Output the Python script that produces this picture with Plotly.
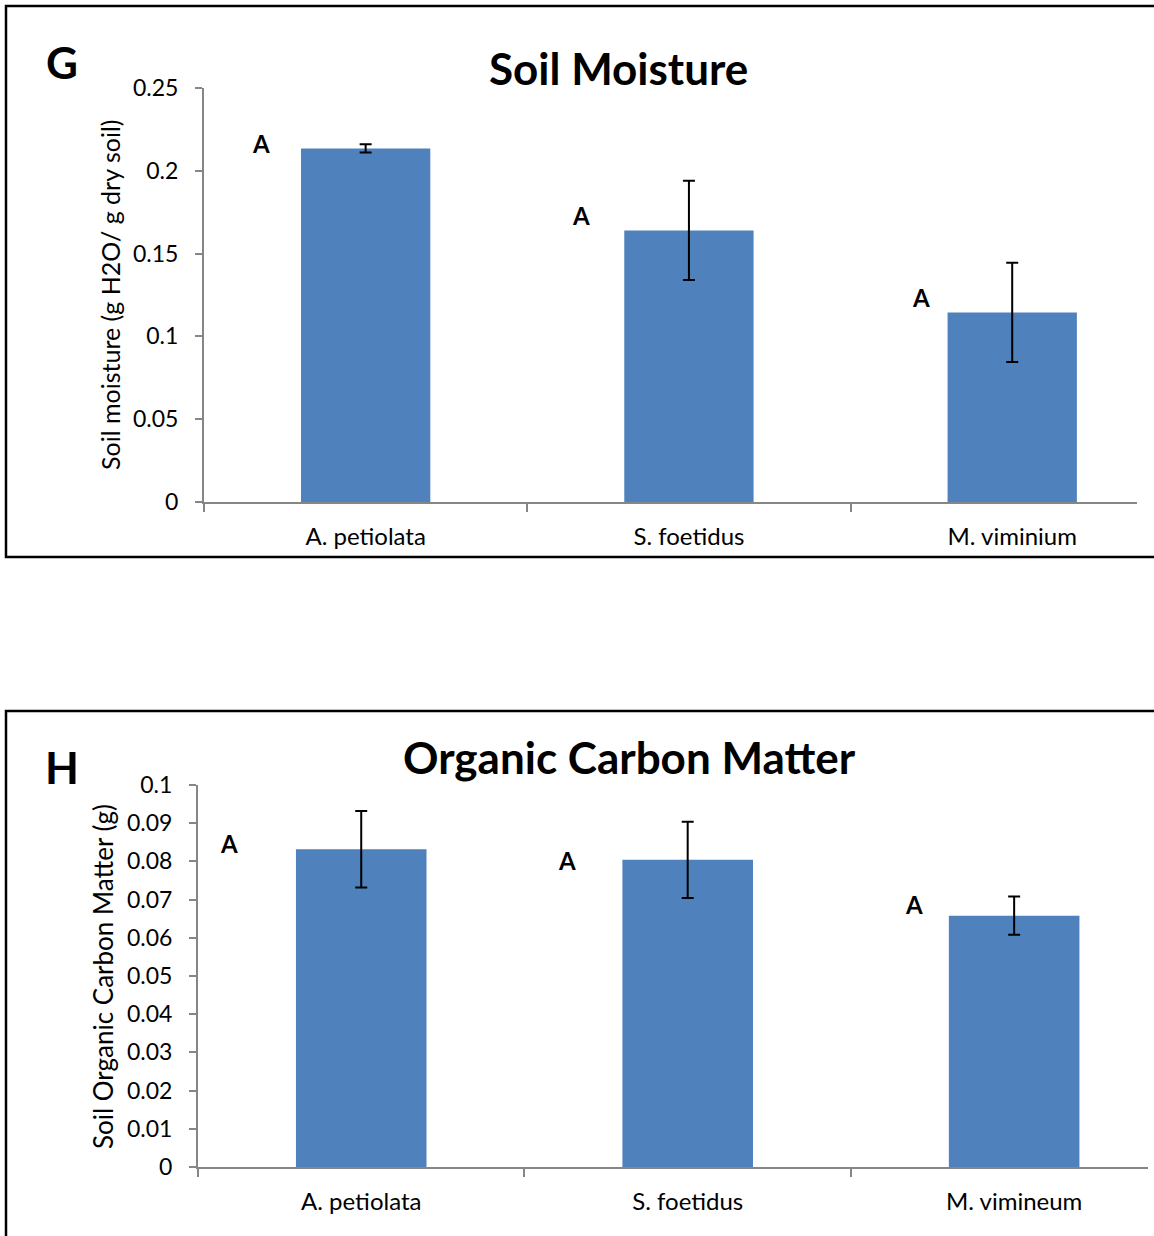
import plotly.graph_objects as go

# Soil moisture (panel G)
moist_species = ["A. petiolata", "S. foetidus", "M. viminium"]
moist_mean = [0.2135, 0.1640, 0.1145]
moist_err = [0.0025, 0.0300, 0.0300]
moist_letters = ["A", "A", "A"]

# Soil organic carbon matter (panel H)
carbon_species = ["A. petiolata", "S. foetidus", "M. vimineum"]
carbon_mean = [0.0832, 0.0804, 0.0658]
carbon_err = [0.0100, 0.0100, 0.0050]
carbon_letters = ["A", "A", "A"]

W, H = 1154, 1236
FONT = "Lato"
BAR = "#4F81BD"
AXIS = "#868686"


def px(x):
    return x / W


def py(y):
    return 1 - y / H


fig = go.Figure()

fig.add_trace(go.Bar(
    x=moist_species, y=moist_mean, width=0.4, marker=dict(color=BAR, line=dict(width=0)),
    error_y=dict(type="data", array=moist_err, color="black", thickness=2, width=6),
    xaxis="x", yaxis="y", showlegend=False,
))
fig.add_trace(go.Bar(
    x=carbon_species, y=carbon_mean, width=0.4, marker=dict(color=BAR, line=dict(width=0)),
    error_y=dict(type="data", array=carbon_err, color="black", thickness=2, width=6),
    xaxis="x2", yaxis="y2", showlegend=False,
))

xfont = dict(family=FONT, size=24, color="black")
yfont = dict(family=FONT, size=23, color="black")
xcommon = dict(type="category", showline=True, linecolor=AXIS, linewidth=2,
               ticks="outside", tickson="boundaries", ticklen=8, tickcolor=AXIS,
               tickwidth=2, tickfont=xfont, ticklabelstandoff=12,
               showgrid=False, zeroline=False, fixedrange=True)
ycommon = dict(showline=True, linecolor=AXIS, linewidth=2, ticks="outside",
               ticklen=7, tickcolor=AXIS, tickwidth=2, tickfont=yfont,
               ticklabelstandoff=12, showgrid=False, zeroline=False, fixedrange=True)

fig.update_layout(
    width=W, height=H, margin=dict(l=0, r=0, t=0, b=0, pad=0, autoexpand=False),
    paper_bgcolor="white", plot_bgcolor="white", bargap=0.6,
    xaxis=dict(xcommon, domain=[px(204), px(1137)], range=[-0.5, 2.386], anchor="y"),
    yaxis=dict(ycommon, domain=[py(502), py(88)], range=[0, 0.25],
               tickvals=[0, 0.05, 0.1, 0.15, 0.2, 0.25],
               ticktext=["0", "0.05", "0.1", "0.15", "0.2", "0.25"], anchor="x"),
    xaxis2=dict(xcommon, domain=[px(198), px(1148)], range=[-0.5, 2.41], anchor="y2"),
    yaxis2=dict(ycommon, domain=[py(1167), py(785)], range=[0, 0.1],
                tickvals=[i / 100 for i in range(11)],
                ticktext=["0"] + ["0.0%d" % i for i in range(1, 10)] + ["0.1"], anchor="x2"),
)

# panel frames
fig.add_shape(type="rect", xref="paper", yref="paper", x0=px(6), x1=px(1170),
              y0=py(557), y1=py(6), line=dict(color="black", width=2.5))
fig.add_shape(type="rect", xref="paper", yref="paper", x0=px(6), x1=px(1170),
              y0=py(1250), y1=py(711), line=dict(color="black", width=2.5))

ann = []
# panel letters and titles
ann.append(dict(text="<b>G</b>", x=px(62), y=py(62), font=dict(size=44)))
ann.append(dict(text="<b>Soil Moisture</b>", x=px(618), y=py(68), font=dict(size=44)))
ann.append(dict(text="<b>H</b>", x=px(62), y=py(767), font=dict(size=44)))
ann.append(dict(text="<b>Organic Carbon Matter</b>", x=px(630), y=py(757), font=dict(size=44)))
# y-axis titles
ann.append(dict(text="Soil moisture (g H2O/ g dry soil)", x=px(110), y=py(295),
                textangle=-90, font=dict(size=25)))
ann.append(dict(text="Soil Organic Carbon Matter (g)", x=px(103), y=py(977),
                textangle=-90, font=dict(size=26)))
for a in ann:
    a.update(xref="paper", yref="paper", showarrow=False, xanchor="center", yanchor="middle")
    a["font"].update(family=FONT, color="black")

# significance letters beside each bar
moist_shift = [(-105, 5), (-108, 15), (-91, 15)]
carbon_shift = [(-132, 6), (-121, -1), (-100, 11)]
for sp, v, lt, (dx, dy) in zip(moist_species, moist_mean, moist_letters, moist_shift):
    ann.append(dict(text="<b>%s</b>" % lt, x=sp, y=v, xref="x", yref="y", xshift=dx, yshift=dy,
                    showarrow=False, font=dict(family=FONT, size=24, color="black")))
for sp, v, lt, (dx, dy) in zip(carbon_species, carbon_mean, carbon_letters, carbon_shift):
    ann.append(dict(text="<b>%s</b>" % lt, x=sp, y=v, xref="x2", yref="y2", xshift=dx, yshift=dy,
                    showarrow=False, font=dict(family=FONT, size=24, color="black")))

fig.update_layout(annotations=ann)
fig.write_html("out.html")
